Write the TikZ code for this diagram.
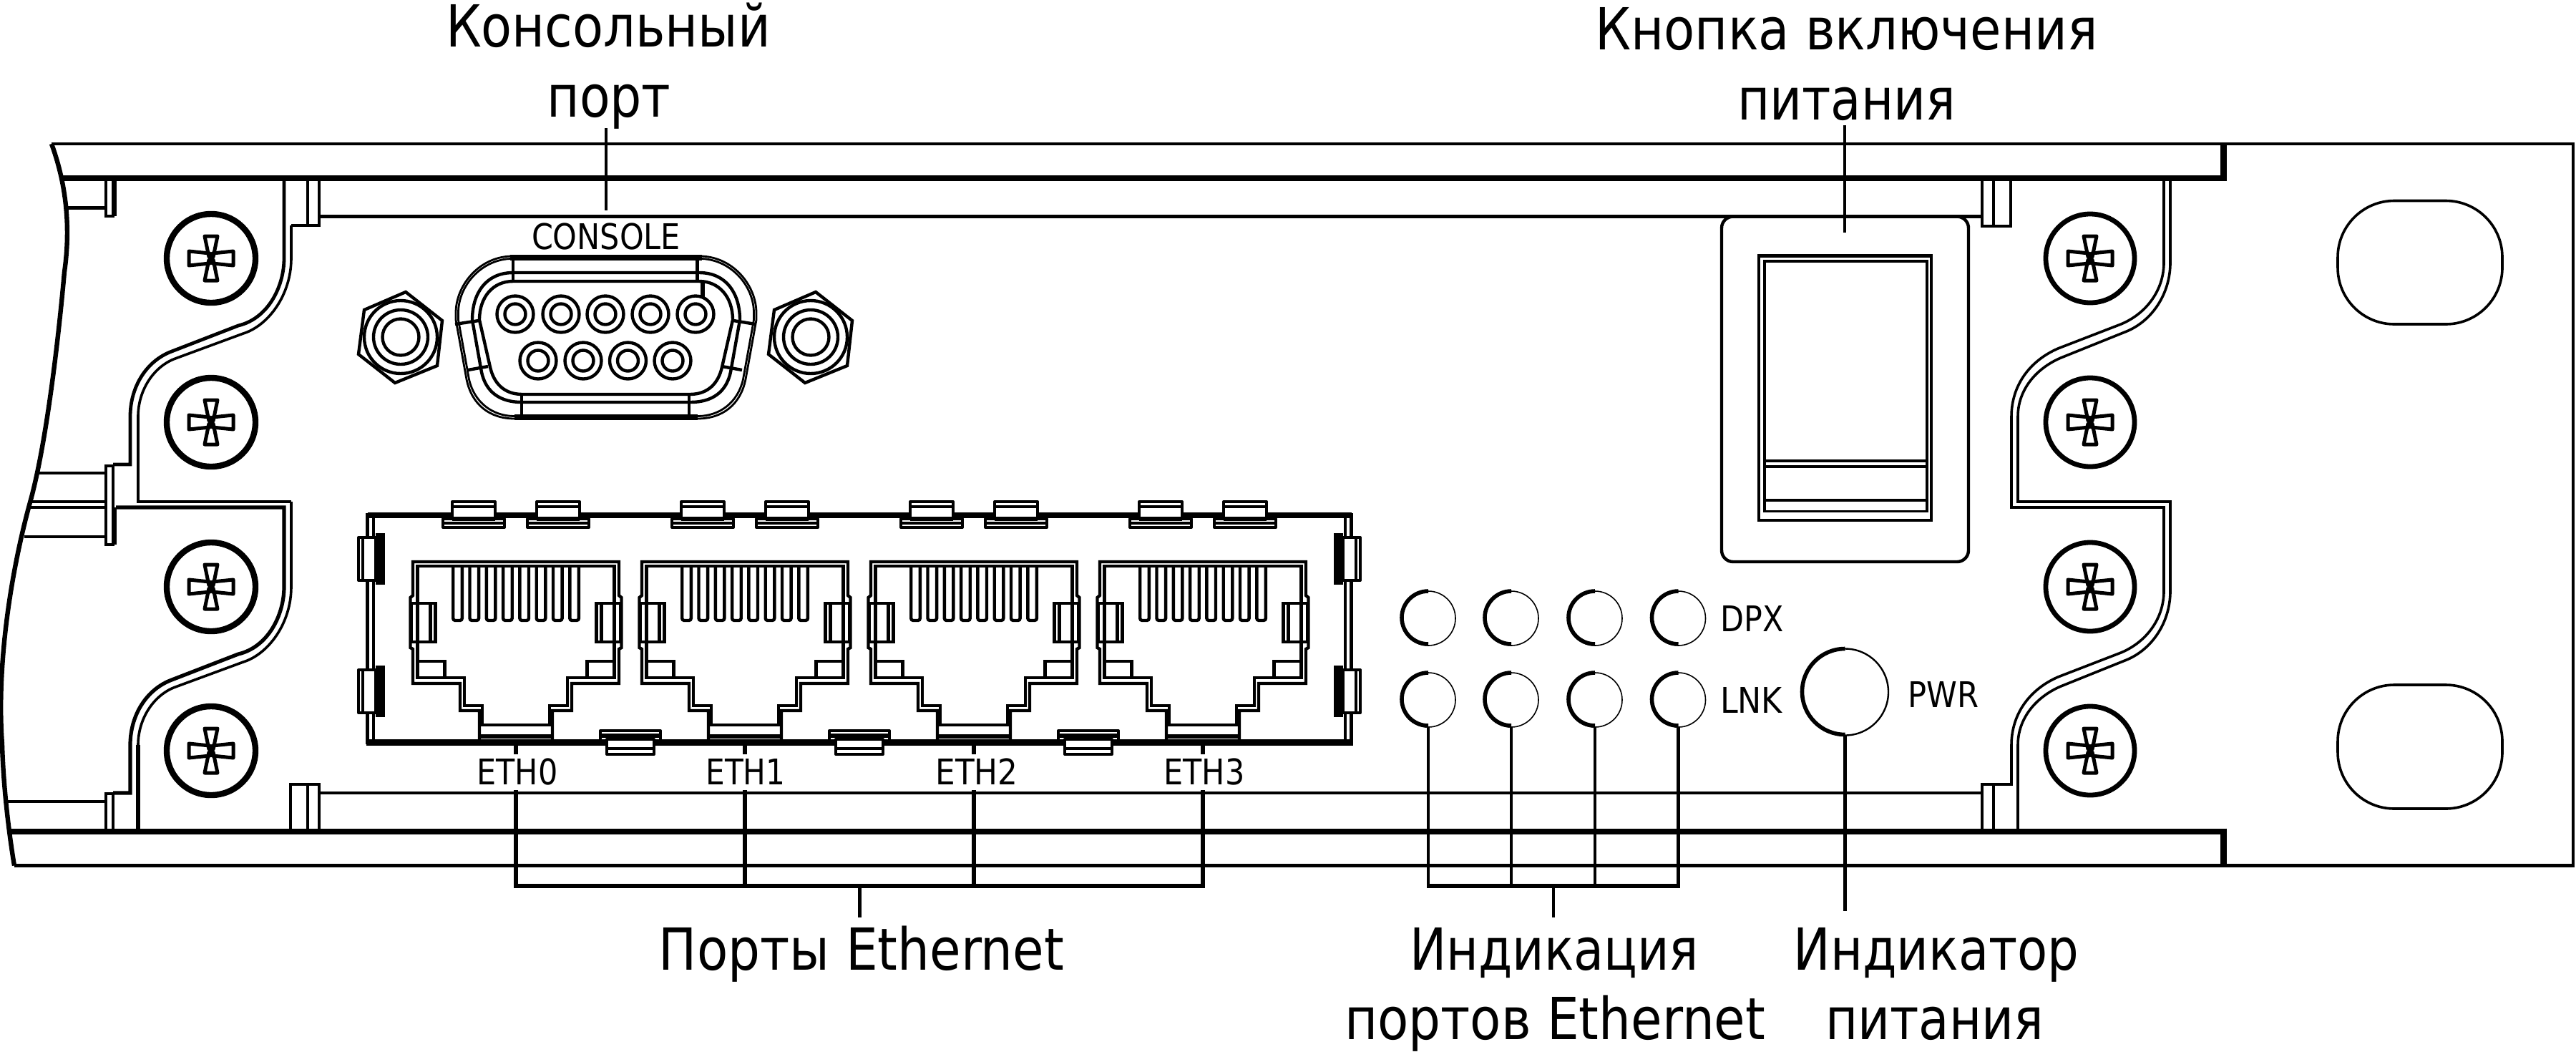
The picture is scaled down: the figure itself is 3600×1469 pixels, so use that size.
\documentclass[tikz,border=0pt]{standalone}
\usepackage{fontspec}
\usepackage{graphicx}
\setmainfont{DejaVu Sans}
\newcommand{\bigtxt}[2]{\resizebox{#1\dimexpr0.5pt\relax}{\height}{\fontsize{40.5}{48}\selectfont #2}}
\newcommand{\smalltxt}[2]{\resizebox{#1\dimexpr0.5pt\relax}{\height}{\fontsize{24.7}{30}\selectfont #2}}
\tikzset{
  ln/.style={line width=2.2pt,line join=miter},
  thn/.style={line width=1.8pt,line join=miter},
  thk/.style={line width=4.3pt,line cap=butt},
  lead/.style={line width=2.4pt},
  bar/.style={line width=3.2pt},
  tb/.style={line width=2pt,fill=white,line join=round},
  lbl/.style={inner sep=0pt,outer sep=0pt,anchor=base},
  led/.style={circle,draw,line width=0.8pt,inner sep=0pt,outer sep=0pt,minimum size=38pt},
  pwrled/.style={circle,draw,line width=1.2pt,inner sep=0pt,outer sep=0pt,minimum size=60.5pt},
  armln/.style={line width=2.5pt,line join=round},
}
\newcommand{\screw}[3]{% x, y, ring width
  \begin{scope}[shift={(#1,#2)}]
    \draw[line width=#3] (0,0) circle[radius=62];
    \foreach \r in {90,270}{
      \draw[armln,rotate=\r] (2,-3) -- (31,-9) -- (31,9) -- (2,3) -- cycle;
    }
    \foreach \r in {0,180}{
      \draw[armln,rotate=\r] (2,-7) -- (31,-10) -- (31,10) -- (2,7) -- cycle;
    }
  \end{scope}
}
\begin{document}
\begin{tikzpicture}[x=0.5pt,y=-0.5pt]
\useasboundingbox (0,0) rectangle (3600,1469);
% chassis
\draw[ln] (72,201) -- (3596,201) -- (3596,1209.5) -- (20,1209.5);
\draw[line width=3.2pt] (72,201) .. controls (90,250) and (100,310) .. (90,380)
  .. controls (82,470) and (65,620) .. (42,702)
  .. controls (15,800) and (-5,930) .. (3,1040)
  .. controls (5,1110) and (15,1180) .. (20,1209.5);
\draw[thk] (85,249) -- (3107.5,249) (3107.5,201) -- (3107.5,253.3);
\draw[thk] (15,1162) -- (3107.5,1162) (3107.5,1157.7) -- (3107.5,1209.5);
% rails
\draw[ln] (92,290.5) -- (148,290.5);
\draw[ln] (53,661) -- (148,661) (44,701) -- (148,701) (42,709) -- (148,709) (34,750) -- (148,750);
\draw[ln] (10,1120) -- (148,1120);
\draw[ln] (446,302.6) -- (2770,302.6) (446,1108) -- (2770,1108);
% left rail blocks
\draw[thn] (148,249) rectangle (158,302);
\draw[line width=3pt] (160,249) -- (160,302);
\draw[thn] (148,651) rectangle (158,761);
\draw[line width=3pt] (160,709) -- (160,761);
\draw[thn] (148,1109) rectangle (158,1162);
\draw[thn] (406,1096) rectangle (446,1162) (430,1096) -- (430,1162);
\draw[thn] (430,249) rectangle (446,315) (407,315) -- (446,315);
\draw[thn] (2770,249) rectangle (2810,316);
\draw[thn] (2786,249) -- (2786,316);
\draw[thn] (2770,1096) rectangle (2786,1162);
% left ear
\draw[ln,line width=2.4pt] (397,249) -- (397,361) .. controls (397,400) and (375,445) .. (333,455) -- (240,491)
  .. controls (205,504) and (182,540) .. (182,582) -- (182,649) -- (158,649);
\draw[ln,line width=2.4pt] (193,582) -- (193,701) -- (407,701);
\draw[thn] (407,315) -- (407,361) .. controls (407,412) and (375,455) .. (340,466) -- (245,501)
  .. controls (215,512) and (193,545) .. (193,582);
\draw[thn] (407,701) -- (407,820)
  .. controls (407,871) and (375,914) .. (340,925) -- (245,960)
  .. controls (215,971) and (193,1004) .. (193,1041);
\draw[ln,line width=2.6pt] (193,1041) -- (193,1162);
\draw[ln,line width=2.6pt] (162,709) -- (397,709) -- (397,820) .. controls (397,859) and (375,904) .. (333,914) -- (240,950)
  .. controls (205,963) and (182,999) .. (182,1041) -- (182,1108) -- (158,1108);
% right ear
\draw[thn] (3024,249) -- (3024,367) .. controls (3024,405) and (3000,438) .. (2964,453) -- (2876,487)
  .. controls (2835,505) and (2811,540) .. (2811,582) -- (2811,709) -- (3024,709) -- (3024,826)
  .. controls (3024,864) and (3000,897) .. (2964,912) -- (2876,946)
  .. controls (2835,964) and (2811,999) .. (2811,1041) -- (2811,1096) -- (2786,1096);
\draw[thn] (3033,249) -- (3033,367) .. controls (3033,410) and (3008,448) .. (2972,463) -- (2880,500)
  .. controls (2845,515) and (2820,545) .. (2820,582) -- (2820,701) -- (3033,701) -- (3033,826)
  .. controls (3033,869) and (3008,907) .. (2972,922) -- (2880,959)
  .. controls (2845,974) and (2820,1004) .. (2820,1041) -- (2820,1162);
% screws
\foreach \sy in {361,590,820,1049}{
  \screw{295}{\sy}{4.2pt}
  \screw{2921}{\sy}{3.4pt}
}
% rack holes
\draw[thn,rounded corners=39.5pt] (3267,280.5) rectangle (3497,453);
\draw[thn,rounded corners=39.5pt] (3267,957) rectangle (3497,1130);
% power switch
\draw[ln,fill=white,rounded corners=8pt] (2406,302.6) rectangle (2751,785);
\draw[ln] (2458,357.5) rectangle (2699,727);
\draw[thn] (2466,365) rectangle (2693,714.5);
\draw[ln] (2466,644) -- (2693,644);
\draw[thn] (2466,652) -- (2693,652) (2466,699) -- (2693,699);
% DB9 shell
\foreach \o in {0,3.5}{
  \draw[line width=1.4pt] (981,{358+\o}) .. controls ({1026-\o},{360+\o}) and ({1057-\o},400) .. ({1057-\o},437)
    -- ({1057-\o},447) -- ({1042-\o},530) .. controls ({1035-\o},{565-\o}) and ({1010-\o},{585-\o}) .. (975,{585-\o});
  \draw[line width=1.4pt] (713,{358+\o}) .. controls ({668+\o},{360+\o}) and ({637+\o},400) .. ({637+\o},437)
    -- ({637+\o},447) -- ({652+\o},530) .. controls ({659+\o},{565-\o}) and ({684+\o},{585-\o}) .. (719,{585-\o});
}
\draw[thk] (713,360) -- (981,360) (719,583) -- (975,583);
\draw[ln] (717,381) -- (977,381) .. controls (1015,381) and (1034,410) .. (1034,447) -- (1021,520)
  .. controls (1015,548) and (995,562) .. (965,562) -- (729,562)
  .. controls (699,562) and (679,548) .. (673,520) -- (660,447)
  .. controls (660,410) and (679,381) .. (717,381) -- cycle;
\draw[ln] (717,393) -- (977,393) .. controls (1005,393) and (1024,415) .. (1024,447) -- (1009,513)
  .. controls (1004,535) and (990,551) .. (964,551) -- (730,551)
  .. controls (704,551) and (690,535) .. (685,513) -- (670,447)
  .. controls (670,415) and (689,393) .. (717,393) -- cycle;
\draw[ln] (717,360) -- (717,393) (974.5,360) -- (974.5,393) (729,551) -- (729,583) (963,551) -- (963,583);
\draw[ln] (636,453) -- (669,448) (654,517) -- (682,512) (1025,448) -- (1056,453) (1009,512) -- (1037,517);
\draw[line width=2.6pt] (982,395) -- (982,416);
\foreach \px in {720,784,846,909,972}{
  \draw[ln] (\px,439) circle[radius=25.5] (\px,439) circle[radius=14.5];
}
\foreach \px in {752,815,877.5,940}{
  \draw[ln] (\px,504) circle[radius=25.5] (\px,504) circle[radius=14.5];
}
% nuts
\foreach \dx in {0,573}{
  \begin{scope}[shift={(\dx,0)}]
    \draw[ln] (567,408) -- (618,448) -- (611,511) -- (552,535) -- (501,495) -- (509,433) -- cycle;
    \draw[ln] (560,471) circle[radius=51] (560,471) circle[radius=38] (560,471) circle[radius=25.5];
  \end{scope}
}
% Ethernet module frame
\draw[thk] (513.5,720) -- (1888.5,720);
\draw[thk] (511.5,1037.5) -- (1890.5,1037.5);
\draw[ln] (513.5,717) -- (513.5,1040) (522,720) -- (522,1037);
\draw[ln] (1880,720) -- (1880,1037) (1888.5,717) -- (1888.5,1040);
\foreach \sy in {745,930}{
  \fill (525,\sy) rectangle (538,{\sy+72});
  \draw[tb] (501,{\sy+6}) rectangle (525,{\sy+66});
  \draw[thn] (507,{\sy+6}) -- (507,{\sy+66});
  \fill (1864,\sy) rectangle (1877,{\sy+72});
  \draw[tb] (1877,{\sy+6}) rectangle (1901,{\sy+66});
  \draw[thn] (1895,{\sy+6}) -- (1895,{\sy+66});
}
% bottom tabs
\foreach \tx in {881,1201,1521}{
  \begin{scope}[shift={(\tx,0)}]
    \draw[tb] (-42,1021) rectangle (42,1035);
    \draw[line width=2.6pt] (-42,1028) -- (42,1028);
    \draw[tb] (-33,1033) rectangle (33,1054);
    \draw[ln] (-33,1046) -- (33,1046);
  \end{scope}
}
% RJ-45 ports
\foreach \c in {721,1041,1361,1681}{
  \begin{scope}[shift={(\c,0)}]
    % top tabs
    \foreach \m in {-59,59}{
      \begin{scope}[shift={(\m,0)}]
        \draw[tb] (-30,701) rectangle (30,724);
        \draw[ln] (-30,708) -- (30,708);
        \draw[tb] (-43,725) rectangle (43,737);
        \draw[line width=3.2pt] (-30,725) -- (30,725);
        \draw[ln] (-43,731) -- (43,731);
      \end{scope}
    }
    \draw[ln] (51,1034) -- (51,993) -- (78,993) -- (78,955) -- (144,955) -- (144,907) -- (147.5,905) -- (147.5,835)
      -- (144,832) -- (144,785) -- (-144,785) -- (-144,832) -- (-147.5,835) -- (-147.5,905) -- (-144,907)
      -- (-144,955) -- (-78,955) -- (-78,993) -- (-51,993) -- (-51,1034);
    \draw[ln] (-137.5,791) -- (137.5,791) -- (137.5,947) -- (72,947) -- (72,986) -- (47,986) -- (47,1012.7)
      -- (-47,1012.7) -- (-47,986) -- (-72,986) -- (-72,947) -- (-137.5,947) -- cycle;
    \draw[line width=3pt] (-51,1028.5) -- (51,1028.5);
    \draw[ln] (-137.5,924) -- (-99.5,924) -- (-99.5,947) (137.5,924) -- (99.5,924) -- (99.5,947);
    \draw[ln] (-146.5,843) rectangle (-112.5,897) (146.5,843) rectangle (112.5,897);
    \draw[ln] (-119.6,843) -- (-119.6,897) (119.6,843) -- (119.6,897);
    \foreach \k in {0,...,7}{
      \draw[ln,rounded corners=1.5pt] ({-81.5+23.3*\k-6.3},791) -- ({-81.5+23.3*\k-6.3},867) -- ({-81.5+23.3*\k+6.3},867) -- ({-81.5+23.3*\k+6.3},791);
    }
  \end{scope}
}
% LEDs
\foreach \n/\lx in {0/1996,1/2112,2/2229,3/2345.5}{
  \node[led] (d\n) at (\lx,864) {};
  \node[led] (k\n) at (\lx,978) {};
  \draw[line width=2.8pt] (d\n.north) arc[start angle=-90,end angle=-270,radius=37];
  \draw[line width=2.8pt] (k\n.north) arc[start angle=-90,end angle=-270,radius=37];
}
\node[pwrled] (pw) at (2578.5,967) {};
\draw[line width=2.8pt] (pw.north) arc[start angle=-90,end angle=-270,radius=60];
% texts
\node[lbl] (tcon) at (847,348) {\smalltxt{208}{CONSOLE}};
\node[lbl] (te0) at (723,1096) {\smalltxt{113}{ETH0}};
\node[lbl] (te1) at (1042,1096) {\smalltxt{111}{ETH1}};
\node[lbl] (te2) at (1365,1096) {\smalltxt{115}{ETH2}};
\node[lbl] (te3) at (1683,1096) {\smalltxt{113}{ETH3}};
\node[lbl] (tdpx) at (2448.5,882) {\smalltxt{88}{DPX}};
\node[lbl] (tlnk) at (2447.5,996) {\smalltxt{87}{LNK}};
\node[lbl] (tpwr) at (2716,988) {\smalltxt{99}{PWR}};
\node[lbl] (cons1) at (850,65) {\bigtxt{454}{Консольный}};
\node[lbl] (cons2) at (851,163) {\bigtxt{173}{порт}};
\node[lbl] (btn1) at (2580.5,69) {\bigtxt{702}{Кнопка включения}};
\node[lbl] (btn2) at (2580.5,167) {\bigtxt{305}{питания}};
\node[lbl] (eth) at (1204,1355) {\bigtxt{566}{Порты Ethernet}};
\node[lbl] (ind1) at (2172,1355) {\bigtxt{404}{Индикация}};
\node[lbl] (ind2) at (2173,1452.7) {\bigtxt{588}{портов Ethernet}};
\node[lbl] (pin1) at (2706,1355) {\bigtxt{399}{Индикатор}};
\node[lbl] (pin2) at (2703.5,1452.7) {\bigtxt{305}{питания}};
% leaders
\coordinate (cA) at (847,179); \coordinate (cB) at (847,294);
\coordinate (bA) at (2578,175); \coordinate (bB) at (2578,325);
\draw[lead] (cA) -- (cB);
\draw[lead] (bA) -- (bB);
\coordinate (ebar) at (1201.5,1238);
\foreach \n/\px in {0/721,1/1041,2/1361,3/1681}{
  \coordinate (ea\n) at (\px,1037);
  \coordinate (eb\n) at (\px,1054);
  \coordinate (ec\n) at (\px,1104);
  \coordinate (ed\n) at (\px,1241);
  \draw[line width=2.8pt] (ea\n) -- (eb\n);
  \draw[line width=2.8pt] (ec\n) -- (ed\n);
}
\draw[bar] (ed0 |- ebar) -- (ed3 |- ebar);
\coordinate (eEnd) at (1201.5,1282);
\draw[lead] (ebar) -- (eEnd);
\coordinate (lbar) at (2171,1238);
\coordinate (lEnd) at (2171,1282);
\foreach \n in {0,1,2,3}{
  \draw[lead] (k\n.south) -- (k\n.south |- lbar);
}
\draw[bar] ([xshift=-1pt]k0.south |- lbar) -- ([xshift=1pt]k3.south |- lbar);
\draw[lead] (lbar) -- (lEnd);
\coordinate (pEnd) at (2578.5,1273);
\draw[lead] (pw.south) -- (pEnd);
\end{tikzpicture}
\end{document}
